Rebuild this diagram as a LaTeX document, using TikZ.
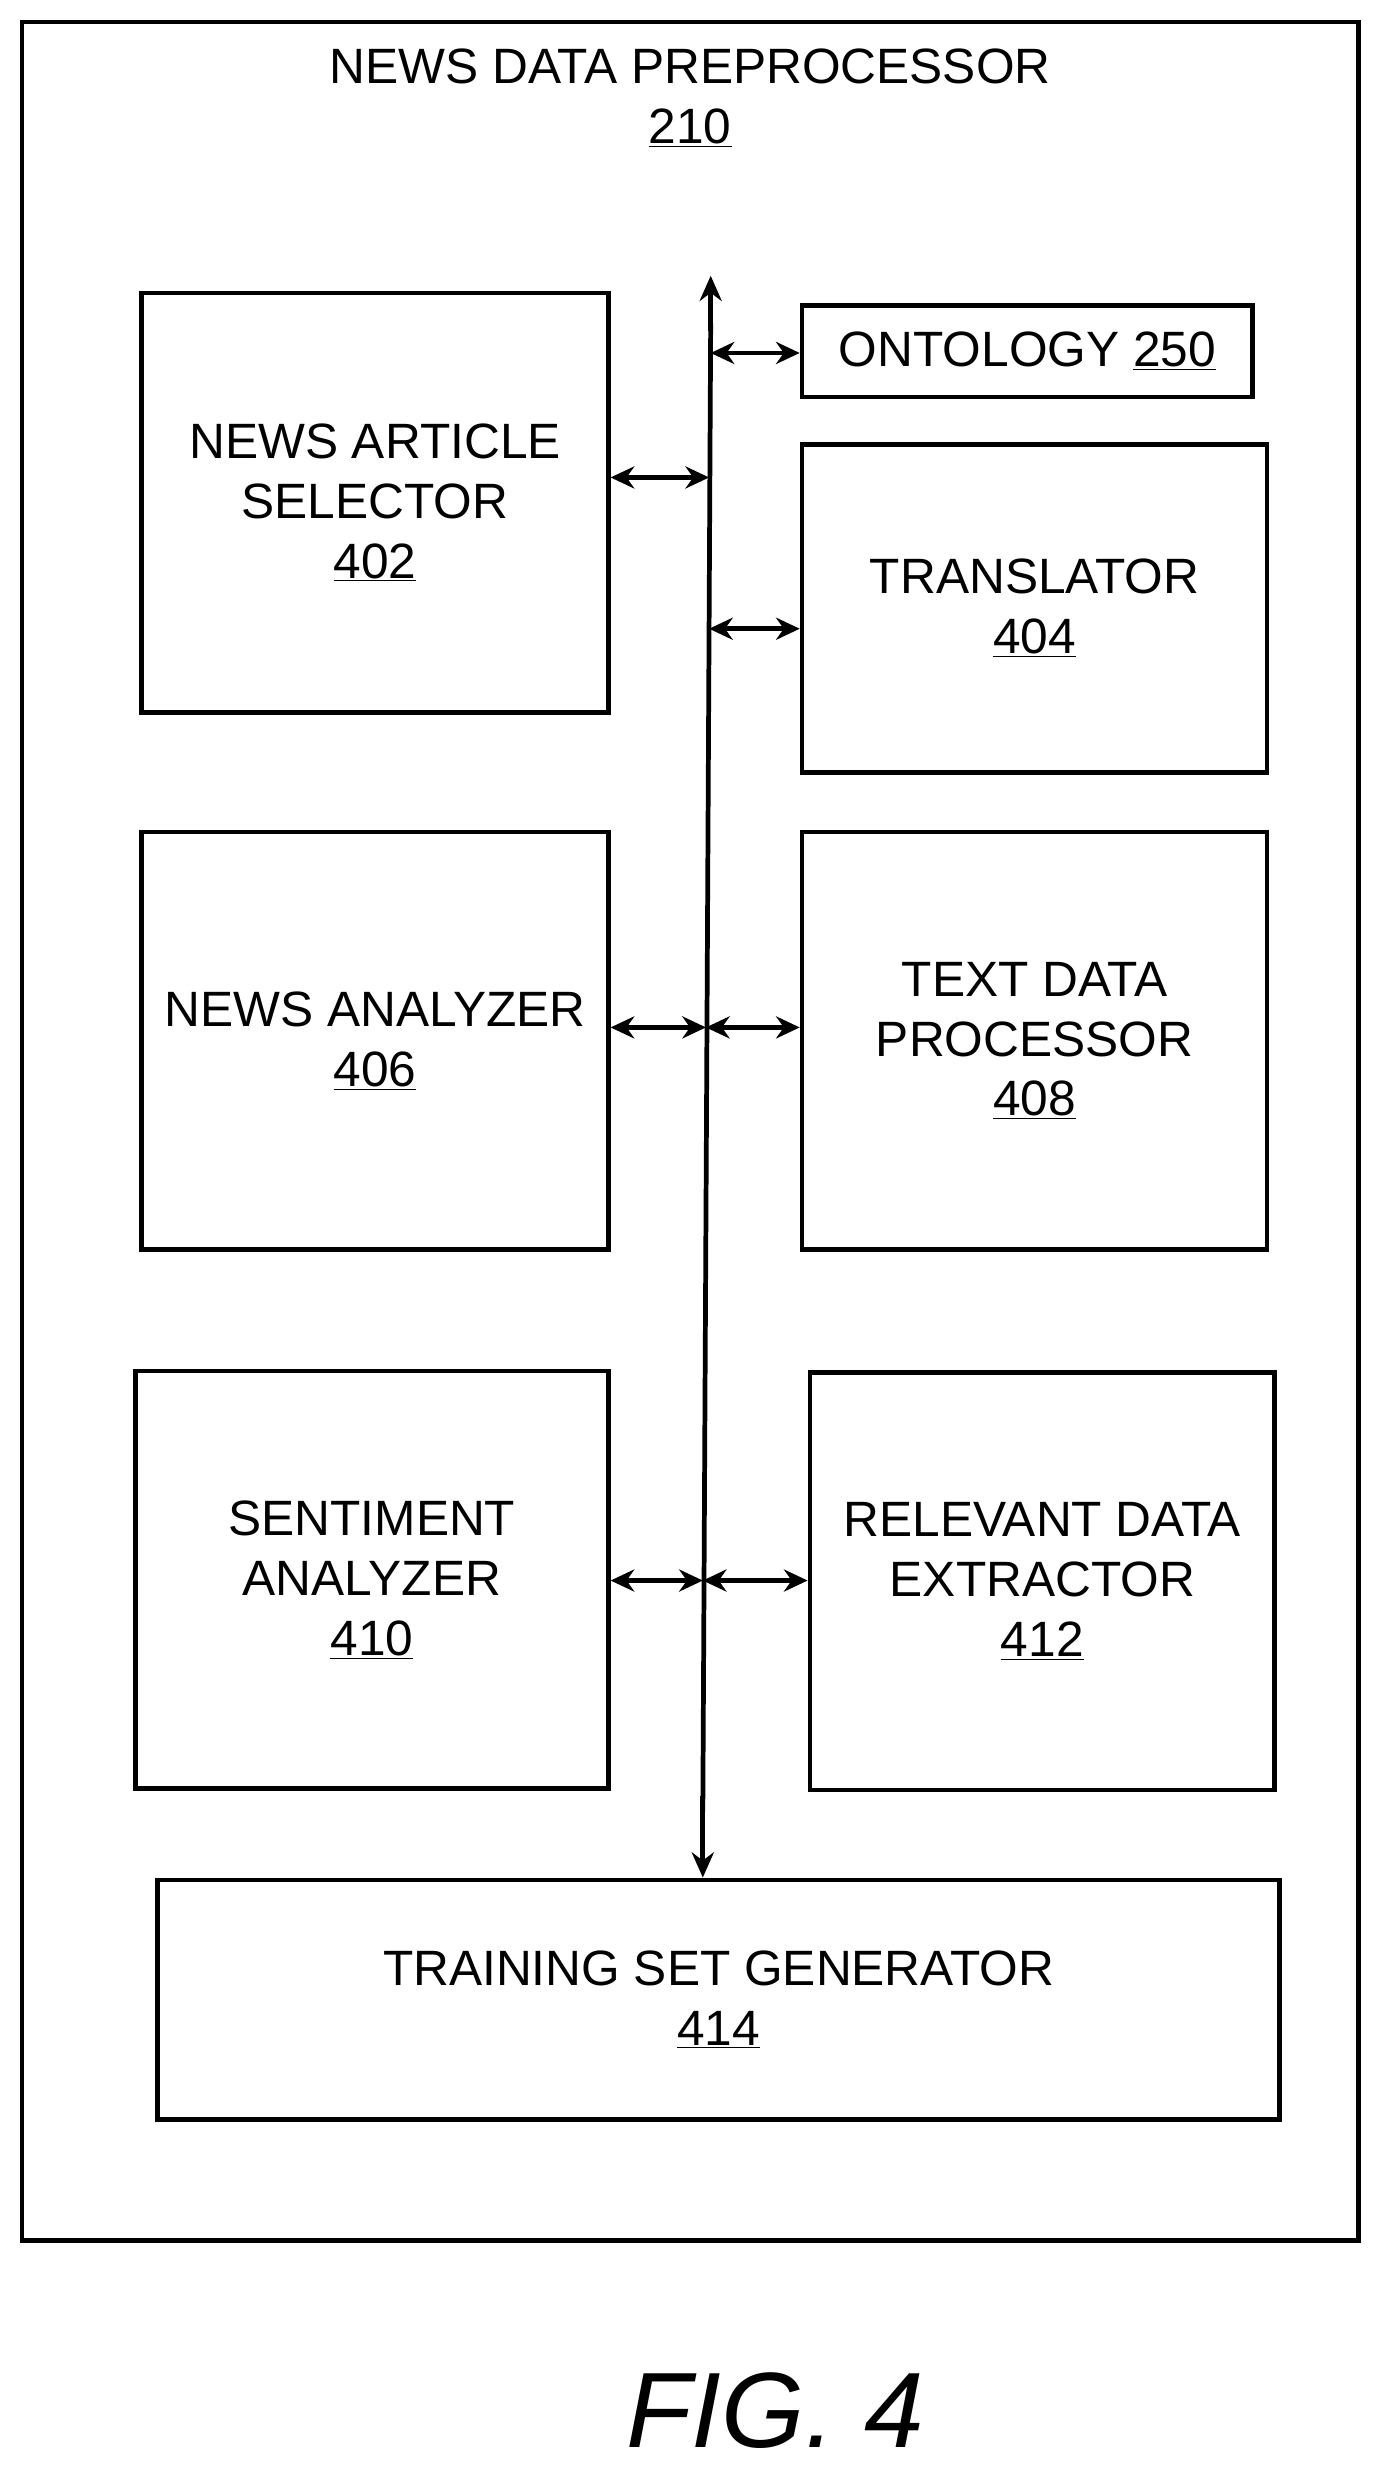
\documentclass[tikz,border=0pt]{standalone}
\usepackage{fontspec}
\setmainfont{Liberation Sans}
\usetikzlibrary{arrows.meta}
\begin{document}
\begin{tikzpicture}[x=1pt,y=-1pt,
  box/.style={draw,line width=3pt,inner sep=0pt,align=center,font=\fontsize{31.5}{38}\selectfont},
  tip/.style={line width=3pt,{Stealth[length=15pt,width=14pt]}-{Stealth[length=15pt,width=14pt]}},
  one/.style={line width=3pt,-{Stealth[length=16pt,width=14pt]}}]
\useasboundingbox (0,0) rectangle (877,1570);
\draw[line width=3pt] (14,14) rectangle (862,1422);
\node[font=\fontsize{31.5}{38}\selectfont,align=center] (title) at (438,62) {NEWS DATA PREPROCESSOR\\\underline{210}};
\node[box,minimum width=286pt,minimum height=58pt] (ont) at (652,223) {ONTOLOGY \underline{250}};
\node[box,minimum width=296pt,minimum height=266pt] (nas) at (238,319) {NEWS ARTICLE\\SELECTOR\\\underline{402}};
\node[box,minimum width=295pt,minimum height=208pt] (tr) at (656.5,386) {TRANSLATOR\\\underline{404}};
\node[box,minimum width=296pt,minimum height=265pt] (na) at (238,660.5) {NEWS ANALYZER\\\underline{406}};
\node[box,minimum width=295pt,minimum height=265pt] (tdp) at (656.5,660.5) {TEXT DATA\\PROCESSOR\\\underline{408}};
\node[box,minimum width=300pt,minimum height=265pt] (sa) at (236,1002.5) {SENTIMENT\\ANALYZER\\\underline{410}};
\node[box,minimum width=295pt,minimum height=265pt] (rde) at (661.5,1003.5) {RELEVANT DATA\\EXTRACTOR\\\underline{412}};
\node[box,minimum width=712pt,minimum height=152pt] (tsg) at (456,1269) {TRAINING SET GENERATOR\\\underline{414}};
\coordinate (top) at (451,175);
\coordinate (bot) at (tsg.north -| 446,0);
\draw[line width=3pt] (451,205) -- (446,1150);
\draw[one] (451,210) -- (top);
\draw[one] (446,1140) -- (bot);
\coordinate (b1) at (451,224);
\coordinate (b2) at (450,303);
\coordinate (b3) at (450,399);
\coordinate (b4) at (448,652);
\coordinate (b5) at (446,1003);
\draw[tip] (b1) -- (ont.west |- b1);
\draw[tip] (nas.east |- b2) -- (b2);
\draw[tip] (b3) -- (tr.west |- b3);
\draw[tip] (na.east |- b4) -- (b4);
\draw[tip] (b4) -- (tdp.west |- b4);
\draw[tip] (sa.east |- b5) -- (b5);
\draw[tip] (b5) -- (rde.west |- b5);
\node[font=\fontsize{68}{80}\selectfont\itshape] (fig) at (492,1530) {FIG. 4};
\end{tikzpicture}
\end{document}
